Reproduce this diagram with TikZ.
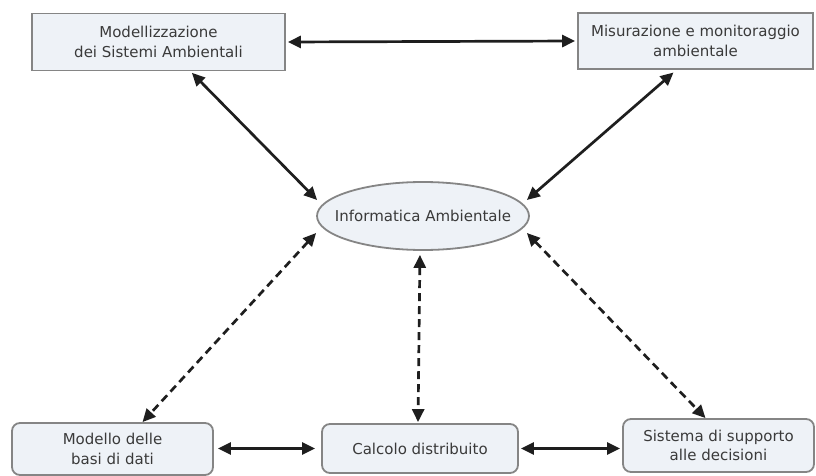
\documentclass[tikz,border=0pt]{standalone}
\usepackage{fontspec}
\setmainfont{DejaVu Sans}
\usetikzlibrary{arrows.meta,shapes.geometric}
\definecolor{boxfill}{HTML}{EEF2F7}
\definecolor{boxline}{HTML}{858585}
\definecolor{txt}{HTML}{3A3A3A}
\definecolor{link}{HTML}{1E1E1E}
\tikzset{
  every node/.style={font=\fontsize{15}{19.5}\selectfont, text=txt, align=center, inner sep=0pt},
  topbox/.style={draw=boxline, line width=1.8pt, fill=boxfill},
  botbox/.style={draw=boxline, line width=1.8pt, fill=boxfill, rounded corners=8pt},
  hub/.style={ellipse, draw=boxline, line width=1.8pt, fill=boxfill, inner xsep=-14pt,
    minimum width=212pt, minimum height=68pt},
  link/.style={draw=link, line width=2.7pt, {Triangle[length=13pt,width=12pt]}-{Triangle[length=13pt,width=12pt]}},
  dlink/.style={link, dash pattern=on 8pt off 5pt}
}
\begin{document}
\begin{tikzpicture}[x=1pt,y=-1pt]
  \useasboundingbox (0,0) rectangle (816,476);

  % upper concepts
  \node[topbox, minimum width=253pt, minimum height=57pt] (mod) at (158.5,42)
    {Modellizzazione\\dei Sistemi Ambientali};
  \node[topbox, minimum width=235pt, minimum height=56pt] (mis) at (695.5,41)
    {Misurazione e monitoraggio\\ambientale};

  % central concept
  \node[hub] (inf) at (423,216) {Informatica Ambientale};

  % lower concepts
  \node[botbox, minimum width=201pt, minimum height=52pt] (bd) at (112.5,449)
    {Modello delle\\basi di dati};
  \node[botbox, minimum width=196pt, minimum height=49pt] (cd) at (420,448.5)
    {Calcolo distribuito};
  \node[botbox, minimum width=191pt, minimum height=53pt] (dss) at (718.5,445.5)
    {Sistema di supporto\\alle decisioni};

  % solid links
  \draw[link, shorten <=2pt, shorten >=2pt] (mod.east) -- (mis.west);
  \draw[link, shorten <=2pt] ([xshift=32pt]mod.south) -- ([xshift=1pt,yshift=16pt]inf.west);
  \draw[link, shorten <=4pt] ([xshift=-19pt]mis.south) -- ([xshift=-3pt,yshift=16pt]inf.east);

  % dashed links
  \draw[dlink] ([yshift=-17pt]inf.west) -- ([xshift=30pt]bd.north);
  \draw[dlink, shorten <=4pt, shorten >=1pt] ([xshift=-3pt]inf.south) -- ([xshift=-2pt]cd.north);
  \draw[dlink] ([xshift=-3pt,yshift=-17pt]inf.east) -- ([xshift=-13pt]dss.north);

  % links between the lower concepts
  \draw[link, shorten <=4pt, shorten >=6pt] (bd.east |- cd.west) -- (cd.west);
  \draw[link, shorten <=2pt, shorten >=2pt] (cd.east) -- (cd.east -| dss.west);
\end{tikzpicture}
\end{document}
